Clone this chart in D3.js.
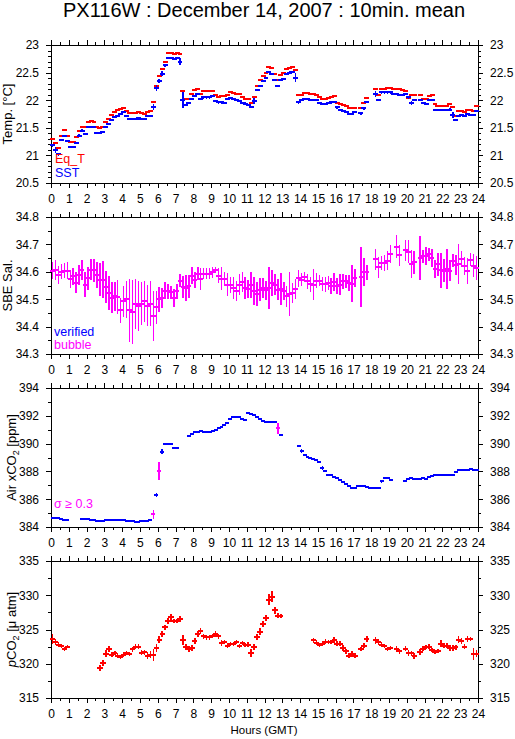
<!DOCTYPE html>
<html><head><meta charset="utf-8">
<script src="https://cdn.jsdelivr.net/npm/d3@7"></script>
<style>
body{margin:0;background:#fff}
svg{display:block}
text{font-family:"Liberation Sans",Arial,Helvetica,sans-serif}
</style>
</head><body>
<svg id="c" width="515" height="739"></svg>
<script>
// ---------- DATA (10-minute means, slot i = hours i/6 .. (i+1)/6) ----------
const hourLabels = [0,1,2,3,4,5,6,7,8,9,10,11,12,13,14,15,16,17,18,19,20,21,22,23,24];
const tempTicks = [20.5,21,21.5,22,22.5,23];
const salTicks = [34.3,34.4,34.5,34.6,34.7,34.8];
const xco2Ticks = [384,386,388,390,392,394];
const pco2Ticks = [315,320,325,330,335];

const eqT = [
21.30,21.23,21.13,21.36,21.46,21.36,21.25,21.24,21.33,21.45,21.52,21.51,
21.60,21.63,21.61,21.51,21.49,21.51,21.60,21.66,21.73,21.79,21.82,21.84,
21.85,21.81,21.77,21.77,21.77,21.78,21.77,21.75,21.79,21.81,21.96,22.26,
22.43,22.56,22.70,22.85,22.86,22.84,22.85,22.83,22.16,22.02,22.03,22.11,
22.19,22.20,22.11,22.17,22.16,22.16,22.16,22.10,22.05,22.07,22.07,22.10,
22.14,22.13,22.11,22.11,22.05,22.02,22.02,21.95,22.05,22.26,22.36,22.44,
22.50,22.60,22.58,22.48,22.37,22.46,22.49,22.56,22.58,22.60,22.55,22.10,
22.10,22.13,22.13,22.11,22.11,22.10,22.05,22.02,22.02,22.04,22.05,22.07,
21.95,21.93,21.92,21.89,21.85,21.85,21.86,null,21.86,21.95,22.04,null,
null,22.21,22.10,22.20,22.21,22.22,22.22,22.21,22.20,22.20,22.19,22.17,
22.04,22.10,22.10,null,22.10,22.02,22.02,22.07,22.09,21.93,21.90,21.90,
21.90,21.90,21.94,21.87,21.72,21.81,21.81,21.79,21.83,21.83,21.81,21.89];

const sst = [
21.18,21.10,21.02,21.28,21.35,21.26,21.15,21.15,21.23,21.36,21.45,21.39,
21.51,21.52,21.51,21.40,21.40,21.43,21.51,21.57,21.64,21.70,21.72,21.75,
21.78,21.72,21.66,21.66,21.66,21.67,21.66,21.66,21.72,21.72,21.88,22.22,
22.35,22.48,22.63,22.76,22.76,22.75,22.76,22.70,22.00,21.92,21.95,22.02,
22.08,22.11,22.02,22.05,22.05,22.05,22.07,21.99,21.96,21.96,21.95,22.02,
22.04,22.02,22.01,21.99,21.95,21.94,21.92,21.87,21.99,22.19,22.26,22.35,
22.40,22.51,22.47,22.36,22.26,22.36,22.39,22.48,22.50,22.51,22.41,21.96,
22.01,22.02,22.02,22.01,22.01,22.01,21.95,21.93,21.93,21.95,21.96,21.97,
21.87,21.82,21.81,21.78,21.75,21.75,21.78,null,21.76,21.85,21.97,null,
null,22.11,22.01,22.14,22.14,22.14,22.14,22.11,22.11,22.10,22.10,22.11,
22.05,21.95,22.01,null,22.01,21.95,21.93,22.01,22.01,21.82,21.82,21.82,
21.82,21.82,21.83,21.73,21.64,21.72,21.73,21.72,21.75,21.73,21.73,21.81];

const sstSd = [
0.02,0.05,0.03,0.02,0.02,0.02,0.02,0.02,0.02,0.02,0.02,0.02,
0.02,0.02,0.02,0.02,0.02,0.02,0.02,0.02,0.02,0.02,0.02,0.02,
0.02,0.02,0.02,0.02,0.02,0.02,0.02,0.02,0.02,0.02,0.05,0.05,
0.04,0.04,0.03,0.02,0.02,0.02,0.02,0.06,0.14,0.02,0.02,0.02,
0.02,0.02,0.02,0.02,0.02,0.02,0.02,0.02,0.02,0.02,0.02,0.02,
0.02,0.02,0.02,0.02,0.02,0.02,0.02,0.02,0.05,0.02,0.02,0.02,
0.02,0.02,0.02,0.02,0.02,0.02,0.02,0.02,0.02,0.02,0.08,0.03,
0.02,0.02,0.02,0.02,0.02,0.02,0.02,0.02,0.02,0.02,0.02,0.02,
0.03,0.02,0.02,0.02,0.02,0.02,0.02,0,0.02,0.03,0.02,0,
0,0.05,0.02,0.02,0.02,0.02,0.02,0.02,0.02,0.02,0.02,0.02,
0.03,0.03,0.02,0,0.02,0.02,0.02,0.02,0.02,0.02,0.02,0.02,
0.02,0.02,0.02,0.05,0.02,0.02,0.02,0.02,0.02,0.02,0.02,0.02];

const sal = [
34.604,34.607,34.588,34.600,34.604,34.604,34.574,34.583,34.560,34.588,34.607,34.553,
34.577,34.607,34.605,34.588,34.571,34.571,34.545,34.523,34.505,34.510,34.508,34.459,
34.492,34.499,34.460,34.454,34.484,34.474,34.484,34.492,34.477,34.484,34.438,34.470,
34.499,34.505,34.531,34.529,34.525,34.505,34.529,34.568,34.545,34.541,34.548,34.586,
34.571,34.593,34.574,34.593,34.593,34.593,34.598,34.607,34.586,34.574,34.574,34.552,
34.552,34.541,34.529,34.553,34.562,34.541,34.537,34.553,34.530,34.519,34.535,34.541,
34.532,34.541,34.559,34.553,34.535,34.537,34.529,34.510,34.519,34.523,34.537,34.576,
34.571,34.580,34.565,34.555,34.553,34.568,34.568,34.555,34.555,34.559,34.549,34.562,
34.549,34.553,34.565,34.565,34.559,34.556,34.576,null,34.581,34.598,34.598,null,
null,34.646,34.616,34.632,34.632,34.641,34.664,null,34.692,34.660,null,34.678,
34.674,34.629,34.635,null,34.650,34.656,34.656,34.664,34.652,34.610,34.628,34.605,
34.604,34.610,34.604,34.641,34.626,34.628,34.646,34.622,34.604,34.644,34.622,34.614];

const salSd = [
0.030,0.036,0.033,0.027,0.027,0.030,0.033,0.030,0.039,0.036,0.036,0.045,
0.042,0.038,0.042,0.048,0.061,0.067,0.059,0.063,0.057,0.054,0.063,0.045,
0.057,0.069,0.115,0.117,0.091,0.091,0.079,0.075,0.075,0.081,0.092,0.061,
0.045,0.036,0.030,0.027,0.024,0.033,0.027,0.024,0.039,0.048,0.042,0.030,
0.030,0.024,0.039,0.021,0.021,0.021,0.021,0.012,0.027,0.042,0.027,0.042,
0.030,0.039,0.036,0.039,0.036,0.039,0.033,0.048,0.051,0.045,0.042,0.036,
0.036,0.075,0.048,0.039,0.039,0.057,0.033,0.039,0.079,0.036,0.036,0.030,
0.024,0.018,0.027,0.027,0.057,0.027,0.021,0.025,0.027,0.024,0.030,0.033,
0.030,0.039,0.027,0.024,0.030,0.068,0.033,0,0.108,0.051,0.027,0,
0,0.039,0.038,0.027,0.030,0.034,0.033,0,0.042,0.039,0,0.039,
0.042,0.051,0.042,0,0.079,0.024,0.033,0.024,0.033,0.033,0.042,0.063,
0.042,0.073,0.039,0.024,0.036,0.073,0.030,0.033,0.048,0.024,0.042,0.045];

const xco2 = [
384.64,384.64,384.62,384.55,384.52,384.48,null,null,null,null,384.54,384.54,
384.54,384.52,384.50,384.45,384.45,384.45,384.47,384.47,384.50,384.48,384.48,384.48,
384.47,384.45,384.42,384.40,384.38,384.38,384.40,384.42,384.45,384.48,384.90,386.30,
388.00,389.40,389.95,389.95,389.95,389.70,389.65,null,null,null,390.55,390.72,
390.80,390.85,390.88,390.85,390.80,390.85,390.90,391.00,391.10,391.20,391.35,391.45,
391.75,391.88,391.88,391.88,391.75,391.70,392.17,392.10,392.05,391.88,391.74,391.64,
391.57,391.52,391.52,391.52,391.10,390.65,null,null,null,null,null,389.80,
389.45,389.20,389.05,388.97,388.92,388.80,388.68,388.27,388.00,387.76,387.71,387.60,
387.53,387.40,387.24,387.07,386.95,386.83,386.83,386.92,386.92,386.92,386.88,386.83,
386.83,386.83,386.83,387.30,387.55,387.55,387.35,null,null,null,null,387.30,
387.47,387.55,387.43,387.43,387.43,387.55,387.47,387.60,387.67,387.72,387.72,387.77,
387.77,387.77,387.77,387.77,387.96,388.13,388.13,388.13,388.08,388.15,388.08,388.08];

const xco2Sd = [
0.05,0.02,0.02,0.02,0.02,0.02,0,0,0,0,0.02,0.02,
0.02,0.02,0.02,0.02,0.02,0.02,0.02,0.02,0.02,0.02,0.02,0.02,
0.02,0.02,0.02,0.02,0.02,0.02,0.02,0.02,0.02,0.05,0.30,0.12,
0.65,0.18,0.04,0.02,0.02,0.03,0.02,0,0,0,0.04,0.02,
0.02,0.02,0.02,0.02,0.02,0.02,0.02,0.02,0.02,0.03,0.02,0.02,
0.05,0.02,0.02,0.02,0.02,0.03,0.04,0.02,0.02,0.03,0.02,0.02,
0.02,0.02,0.02,0.02,0.38,0.03,0,0,0,0,0,0.05,
0.15,0.03,0.02,0.02,0.02,0.02,0.03,0.15,0.02,0.02,0.02,0.02,
0.02,0.02,0.03,0.02,0.03,0.02,0.02,0.03,0.02,0.02,0.02,0.02,
0.02,0.02,0.02,0.10,0.05,0.04,0.05,0,0,0,0,0.03,
0.04,0.02,0.02,0.02,0.03,0.02,0.02,0.02,0.02,0.02,0.02,0.02,
0.02,0.02,0.02,0.02,0.05,0.02,0.02,0.02,0.02,0.03,0.02,0.02];

const pco2 = [
323.6,323.2,322.8,322.6,322.2,322.5,null,null,null,null,null,null,
null,null,null,null,319.4,320.1,321.45,322.2,321.35,321.6,321.2,321.0,
321.35,321.6,321.45,322.1,322.5,322.5,321.6,321.7,321.2,321.35,321.25,322.3,
323.5,324.35,325.3,326.2,326.8,326.3,326.3,326.5,323.5,322.4,322.2,322.3,
323.3,324.35,324.8,324.0,323.85,323.85,324.0,324.35,324.0,323.05,323.15,322.65,
322.9,322.9,323.2,322.55,323.05,322.8,322.8,321.6,322.4,323.85,324.7,325.8,
326.7,329.35,329.8,327.8,327.0,327.0,null,null,null,null,null,null,
null,null,null,null,323.4,323.05,322.8,322.95,323.2,323.2,323.2,323.45,
322.95,322.9,322.3,321.8,321.2,321.45,321.2,null,322.2,322.65,323.6,null,
null,323.4,323.2,322.8,322.55,322.2,322.3,null,322.15,321.8,null,322.2,
321.6,321.5,321.1,null,321.7,322.2,322.5,322.5,322.0,321.7,321.8,322.95,
322.65,322.65,322.3,322.3,322.4,323.5,323.3,322.5,323.6,323.6,321.45,321.45];

const pco2Sd = [
0.7,0.4,0.35,0.35,0.3,0.2,0,0,0,0,0,0,
0,0,0,0,0.45,0.45,0.5,0.45,0.3,0.3,0.35,0.3,
0.3,0.3,0.3,0.35,0.4,0.4,0.35,0.35,0.45,0.5,0.9,0.55,
0.5,0.45,0.4,0.45,0.4,0.3,0.3,0.4,0.7,0.45,0.45,0.45,
0.45,0.4,0.4,0.4,0.35,0.35,0.3,0.45,0.35,0.4,0.3,0.35,
0.3,0.3,0.3,0.3,0.3,0.3,0.35,0.6,0.45,0.45,0.45,0.45,
0.45,0.8,0.8,0.5,0.35,0.3,0,0,0,0,0,0,
0,0,0,0,0.3,0.35,0.3,0.3,0.35,0.3,0.3,0.4,
0.35,0.35,0.45,0.4,0.4,0.35,0.35,0,0.3,0.4,0.45,0,
0,0.45,0.4,0.35,0.3,0.3,0.3,0,0.4,0.35,0,0.4,
0.45,0.35,0.4,0,0.45,0.35,0.3,0.35,0.3,0.3,0.3,0.5,
0.4,0.35,0.5,0.45,0.4,0.5,0.45,0.35,0.4,0.35,0.9,0.5];

// ---------- LAYOUT ----------
const RED = "#ff0000", BLUE = "#0000ff", MAG = "#ff00ff";
const svg = d3.select("#c");
const X = d3.scaleLinear().domain([0, 24]).range([51, 478]);

svg.append("text").attr("x", 264).attr("y", 17).attr("text-anchor", "middle")
  .attr("font-size", 20).text("PX116W : December 14, 2007 : 10min. mean");

const panels = [
  {top: 45, bottom: 183, domain: [20.5, 23], ticks: tempTicks, minor: 0.1, lx: 12},
  {top: 217, bottom: 354, domain: [34.3, 34.8], ticks: salTicks, minor: 0.05, lx: 12},
  {top: 388, bottom: 527, domain: [384, 394], ticks: xco2Ticks, minor: 1, lx: 16},
  {top: 561, bottom: 698, domain: [315, 335], ticks: pco2Ticks, minor: 2.5, lx: 16}
];

const halfHours = d3.range(0, 24.001, 0.5);

function stripDomain(g) { g.select(".domain").remove(); g.selectAll("text").attr("font-family", null); }

panels.forEach(p => {
  p.y = d3.scaleLinear().domain(p.domain).range([p.bottom, p.top]);
  const g = svg.append("g");
  p.g = g;
  const minorVals = d3.range(p.domain[0], p.domain[1] + p.minor / 2, p.minor);
  // x axes
  g.append("g").attr("transform", `translate(0,${p.bottom})`)
    .call(d3.axisBottom(X).tickValues(halfHours).tickSize(3).tickFormat("")).call(stripDomain);
  g.append("g").attr("transform", `translate(0,${p.bottom})`)
    .call(d3.axisBottom(X).tickValues(hourLabels).tickSize(5).tickPadding(6).tickFormat(d => String(d)))
    .call(stripDomain).selectAll("text").attr("font-size", 12);
  g.append("g").attr("transform", `translate(0,${p.top})`)
    .call(d3.axisTop(X).tickValues(halfHours).tickSize(3).tickFormat("")).call(stripDomain);
  g.append("g").attr("transform", `translate(0,${p.top})`)
    .call(d3.axisTop(X).tickValues(hourLabels).tickSize(5).tickFormat("")).call(stripDomain);
  // y axes
  g.append("g").attr("transform", `translate(${X(0)},0)`)
    .call(d3.axisLeft(p.y).tickValues(minorVals).tickSize(3).tickFormat("")).call(stripDomain);
  g.append("g").attr("transform", `translate(${X(0)},0)`)
    .call(d3.axisLeft(p.y).tickValues(p.ticks).tickSize(5).tickPadding(7).tickFormat(d => String(d)))
    .call(stripDomain).selectAll("text").attr("font-size", 12);
  g.append("g").attr("transform", `translate(${X(24)},0)`)
    .call(d3.axisRight(p.y).tickValues(minorVals).tickSize(3).tickFormat("")).call(stripDomain);
  g.append("g").attr("transform", `translate(${X(24)},0)`)
    .call(d3.axisRight(p.y).tickValues(p.ticks).tickSize(5).tickPadding(7).tickFormat(d => String(d)))
    .call(stripDomain).selectAll("text").attr("font-size", 12);
  g.selectAll(".tick line").attr("shape-rendering", "crispEdges");
  g.append("rect").attr("x", X(0)).attr("y", p.top).attr("width", X(24) - X(0))
    .attr("height", p.bottom - p.top).attr("fill", "none").attr("stroke", "#000")
    .attr("shape-rendering", "crispEdges");
});

function points(vals, sds) {
  return vals.map((v, i) => ({i, v, sd: sds ? sds[i] : 0})).filter(d => d.v != null);
}

function drawMarks(p, data, color, opts = {}) {
  const g = p.g.append("g").attr("shape-rendering", "crispEdges");
  const col = typeof color === "function" ? color : () => color;
  const ext = opts.ext != null ? opts.ext : 0.5;
  g.selectAll("line.h").data(data).join("line").attr("class", "h")
    .attr("x1", d => X(d.i / 6) - ext).attr("x2", d => X((d.i + 1) / 6) + ext)
    .attr("y1", d => p.y(d.v)).attr("y2", d => p.y(d.v))
    .attr("stroke", col).attr("stroke-width", 2);
  if (opts.bars) {
    g.selectAll("line.v").data(data.filter(d => d.sd > 0)).join("line").attr("class", "v")
      .attr("x1", d => X((d.i + 0.5) / 6)).attr("x2", d => X((d.i + 0.5) / 6))
      .attr("y1", d => p.y(d.v - d.sd)).attr("y2", d => p.y(d.v + d.sd))
      .attr("stroke", col).attr("stroke-width", 1.5);
  }
}

// Panel 1: temperatures
drawMarks(panels[0], points(eqT), RED, {ext: 1});
drawMarks(panels[0], points(sst, sstSd), BLUE, {bars: true, ext: 1});
// Panel 2: salinity (bubble flagged)
drawMarks(panels[1], points(sal, salSd), MAG, {bars: true, ext: 0.8});
// Panel 3: air xCO2
drawMarks(panels[2], points(xco2, xco2Sd), d => d.sd >= 0.3 ? MAG : BLUE, {bars: true, ext: 0.5});
// Panel 4: pCO2
drawMarks(panels[3], points(pco2, pco2Sd), RED, {bars: true, ext: 1.2});

// Y labels
function ylab(p, build) {
  const t = svg.append("text").attr("font-size", 13).attr("text-anchor", "middle")
    .attr("transform", `translate(${p.lx},${(p.top + p.bottom) / 2}) rotate(-90)`);
  build(t);
}
ylab(panels[0], t => t.text("Temp. [°C]"));
ylab(panels[1], t => t.text("SBE Sal."));
ylab(panels[2], t => {
  t.append("tspan").text("Air xCO");
  t.append("tspan").attr("font-size", 9).attr("dy", 3).text("2");
  t.append("tspan").attr("dy", -3).text(" [ppm]");
});
ylab(panels[3], t => {
  t.append("tspan").attr("font-style", "italic").text("p");
  t.append("tspan").text("CO");
  t.append("tspan").attr("font-size", 9).attr("dy", 3).text("2");
  t.append("tspan").attr("dy", -3).text(" [\u03bc atm]");
});

// Legends
function leg(x, y, txt, color) {
  svg.append("text").attr("x", x).attr("y", y).attr("font-size", 12.5).attr("fill", color).text(txt);
}
leg(55, 163, "Eq_T", RED);
leg(55, 177, "SST", BLUE);
leg(54, 336, "verified", BLUE);
leg(54, 349, "bubble", MAG);
leg(54, 508, "\u03c3 \u2265 0.3", MAG);

svg.append("text").attr("x", 264).attr("y", 734).attr("text-anchor", "middle")
  .attr("font-size", 11.5).text("Hours (GMT)");
</script>
</body></html>
